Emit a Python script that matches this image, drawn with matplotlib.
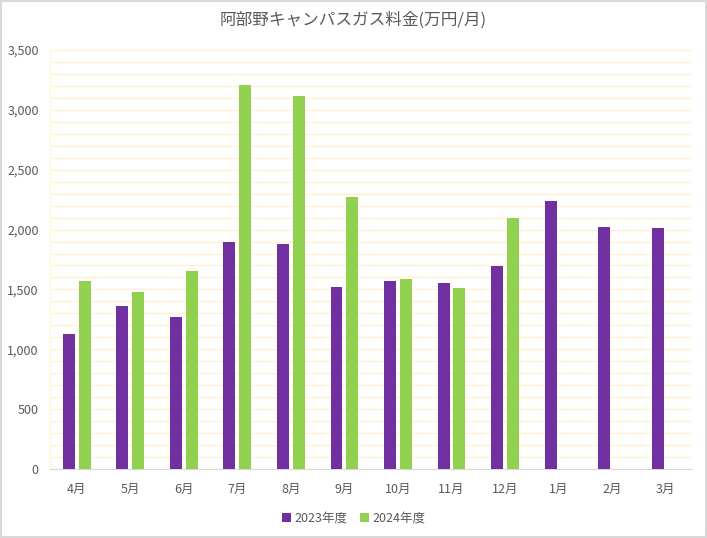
import matplotlib
matplotlib.use("Agg")
import matplotlib.pyplot as plt
import numpy as np
from matplotlib.ticker import FuncFormatter, MultipleLocator

plt.rcParams['font.family'] = ['Noto Sans CJK JP', 'DejaVu Sans']

months = ["4月", "5月", "6月", "7月", "8月", "9月", "10月", "11月", "12月", "1月", "2月", "3月"]
fy2023 = [1130, 1365, 1268, 1900, 1878, 1518, 1573, 1551, 1696, 2241, 2020, 2013]
fy2024 = [1568, 1482, 1652, 3210, 3116, 2272, 1590, 1510, 2094, np.nan, np.nan, np.nan]
series_names = ["2023年度", "2024年度"]
colors = ["#7030A0", "#92D050"]

fig = plt.figure(figsize=(7.07, 5.38), dpi=100)
ax = fig.add_axes([0.0707, 0.1283, 0.9083, 0.7787])

x = np.arange(len(months))
w = 0.224
off = 0.146
ax.bar(x - off, fy2023, w, color=colors[0], label=series_names[0], zorder=3)
ax.bar(x + off, fy2024, w, color=colors[1], label=series_names[1], zorder=3)

ax.set_xlim(-0.5, len(months) - 0.5)
ax.set_ylim(0, 3500)
ax.yaxis.set_major_locator(MultipleLocator(500))
ax.yaxis.set_minor_locator(MultipleLocator(100))
ax.yaxis.set_major_formatter(FuncFormatter(lambda v, p: f"{int(v):,}"))
ax.grid(axis='y', which='both', color='#FFF2CC', linewidth=1, zorder=0)
ax.set_xticks(x)
ax.set_xticklabels(months)
ax.tick_params(axis='both', which='both', length=0, colors='#595959', labelsize=9)
ax.tick_params(axis='x', pad=10)
ax.tick_params(axis='y', pad=8)
for s in ['top', 'right']:
    ax.spines[s].set_visible(False)
ax.spines['left'].set_color('#FFF2CC')
ax.spines['bottom'].set_color('#D9D9D9')

fig.text(0.5, 0.962, "阿部野キャンパスガス料金(万円/月)", ha='center', va='center',
         fontsize=12, color='#595959')

leg = fig.legend(loc='center', bbox_to_anchor=(0.5, 0.037), ncol=2, frameon=False,
                 fontsize=9, handlelength=0.7, handleheight=0.7, handletextpad=0.3,
                 columnspacing=1.0)
for t in leg.get_texts():
    t.set_color('#595959')

fig.patches.append(plt.Rectangle((0.001, 0.001), 0.997, 0.997, transform=fig.transFigure,
                                 fill=False, edgecolor='#D9D9D9', linewidth=1.5))

fig.savefig("out.png", dpi=100)
